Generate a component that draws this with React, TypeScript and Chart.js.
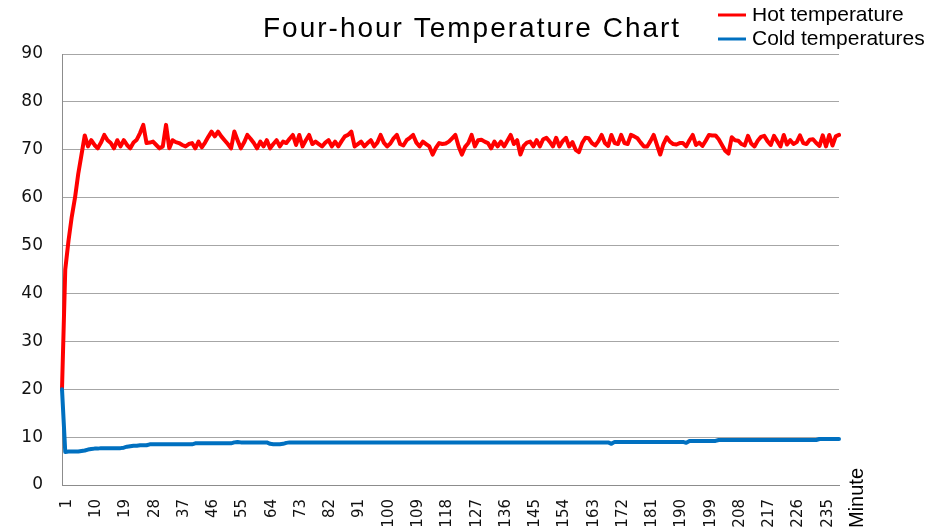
import React, { useEffect, useRef } from "react";
import { Chart, registerables } from "chart.js";

Chart.register(...registerables);

const titleText = "Four-hour Temperature Chart";
const axisTitle = "Minute";
const seriesNames = ["Hot temperature", "Cold temperatures"];
const seriesColors = ["#ff0000", "#0070c0"];

const minutes: string[] = Array.from({ length: 240 }, (_, i) => String(i + 1));

const shownTicks = [
  "1", "10", "19", "28", "37", "46", "55", "64", "73", "82", "91", "100", "109", "118",
  "127", "136", "145", "154", "163", "172", "181", "190", "199", "208", "217", "226", "235",
];

const hotTemps = [
  20, 45, 51, 56, 60, 65, 69, 73, 70.7, 72,
  71, 70.3, 71.5, 73.1, 72, 71.4, 70.3, 72, 70.7, 72,
  71, 70.3, 71.5, 72.1, 73.5, 75.2, 71.4, 71.5, 71.7, 71,
  70.3, 70.7, 75.2, 70.3, 72, 71.6, 71.4, 71, 70.7, 71.2,
  71.4, 70.3, 71.7, 70.5, 71.5, 72.7, 73.8, 72.8, 73.8, 72.8,
  72, 71.2, 70.3, 73.8, 72, 70.3, 71.5, 73.1, 72.3, 71.4,
  70.3, 71.7, 70.7, 72, 70.3, 71.2, 72, 70.7, 71.7, 71.4,
  72.3, 73.1, 71, 73.1, 70.7, 72, 73.1, 71.2, 71.7, 71.2,
  70.7, 71.5, 72, 70.7, 71.7, 70.7, 71.8, 72.8, 73.1, 73.8,
  70.7, 71.2, 71.7, 70.7, 71.4, 72, 70.7, 71.5, 73.1, 71.5,
  70.7, 71.3, 72.4, 73.1, 71.2, 70.9, 72, 72.5, 73.1, 71.5,
  70.7, 71.7, 71.2, 70.7, 69, 70.4, 71.4, 71.2, 71.3, 71.7,
  72.4, 73.1, 70.7, 69, 70.6, 71.4, 73.1, 70.7, 72, 72.1,
  71.7, 71.4, 70.3, 71.7, 70.7, 71.7, 70.7, 71.9, 73.1, 71.2,
  72, 69, 70.8, 71.5, 71.7, 70.7, 72, 70.7, 72.2, 72.5,
  71.7, 70.7, 72.5, 70.7, 71.8, 72.5, 70.7, 71.6, 70, 69.5,
  71.4, 72.5, 72.4, 71.4, 70.9, 71.8, 73.1, 71.4, 70.8, 73.1,
  71.4, 71.2, 73.1, 71.4, 71.2, 73.1, 72.8, 72.4, 71.5, 70.7,
  70.7, 71.8, 73.1, 71, 69, 71.2, 72.6, 71.7, 71.2, 71.1,
  71.4, 71.4, 70.7, 72, 73.1, 71, 71.5, 70.8, 71.9, 73.1,
  73, 73, 72.2, 71, 69.8, 69.2, 72.6, 72, 71.9, 71.2,
  70.9, 72.9, 71.3, 70.7, 71.9, 72.7, 72.9, 71.8, 71, 72.9,
  71.8, 70.7, 73.1, 71.1, 72, 71.2, 71.6, 73, 71.4, 71.2,
  72.1, 72.2, 71.4, 70.8, 73, 70.7, 73.1, 70.9, 72.8, 73.1,
];

const coldTemps = [
  20, 6.9, 7.0, 7.0, 7.0, 7.0, 7.1, 7.2, 7.4, 7.5,
  7.6, 7.6, 7.7, 7.7, 7.7, 7.7, 7.7, 7.7, 7.7, 7.8,
  8.0, 8.1, 8.2, 8.2, 8.3, 8.3, 8.3, 8.5, 8.5, 8.5,
  8.5, 8.5, 8.5, 8.5, 8.5, 8.5, 8.5, 8.5, 8.5, 8.5,
  8.5, 8.7, 8.7, 8.7, 8.7, 8.7, 8.7, 8.7, 8.7, 8.7,
  8.7, 8.7, 8.7, 8.9, 9.0, 8.9, 8.9, 8.9, 8.9, 8.9,
  8.9, 8.9, 8.9, 8.9, 8.6, 8.5, 8.5, 8.5, 8.6, 8.8,
  8.9, 8.9, 8.9, 8.9, 8.9, 8.9, 8.9, 8.9, 8.9, 8.9,
  8.9, 8.9, 8.9, 8.9, 8.9, 8.9, 8.9, 8.9, 8.9, 8.9,
  8.9, 8.9, 8.9, 8.9, 8.9, 8.9, 8.9, 8.9, 8.9, 8.9,
  8.9, 8.9, 8.9, 8.9, 8.9, 8.9, 8.9, 8.9, 8.9, 8.9,
  8.9, 8.9, 8.9, 8.9, 8.9, 8.9, 8.9, 8.9, 8.9, 8.9,
  8.9, 8.9, 8.9, 8.9, 8.9, 8.9, 8.9, 8.9, 8.9, 8.9,
  8.9, 8.9, 8.9, 8.9, 8.9, 8.9, 8.9, 8.9, 8.9, 8.9,
  8.9, 8.9, 8.9, 8.9, 8.9, 8.9, 8.9, 8.9, 8.9, 8.9,
  8.9, 8.9, 8.9, 8.9, 8.9, 8.9, 8.9, 8.9, 8.9, 8.9,
  8.9, 8.9, 8.9, 8.9, 8.9, 8.9, 8.9, 8.9, 8.9, 8.6,
  9.0, 9.0, 9.0, 9.0, 9.0, 9.0, 9.0, 9.0, 9.0, 9.0,
  9.0, 9.0, 9.0, 9.0, 9.0, 9.0, 9.0, 9.0, 9.0, 9.0,
  9.0, 9.0, 8.8, 9.2, 9.2, 9.2, 9.2, 9.2, 9.2, 9.2,
  9.2, 9.2, 9.4, 9.4, 9.4, 9.4, 9.4, 9.4, 9.4, 9.4,
  9.4, 9.4, 9.4, 9.4, 9.4, 9.4, 9.4, 9.4, 9.4, 9.4,
  9.4, 9.4, 9.4, 9.4, 9.4, 9.4, 9.4, 9.4, 9.4, 9.4,
  9.4, 9.4, 9.4, 9.6, 9.6, 9.6, 9.6, 9.6, 9.6, 9.6,
];

const textColor = "#111111";
const tickFont = '"DejaVu Sans", Tahoma, sans-serif';
const labelFont = '"Liberation Sans", Arial, sans-serif';

const overlayPlugin = {
  id: "overlay",
  afterDraw(chart: any) {
    const ctx: CanvasRenderingContext2D = chart.ctx;
    ctx.save();
    // Title
    ctx.fillStyle = "#000";
    ctx.font = `28px ${labelFont}`;
    (ctx as any).letterSpacing = "2px";
    ctx.textAlign = "left";
    ctx.textBaseline = "alphabetic";
    ctx.fillText(titleText, 255, 29);
    (ctx as any).letterSpacing = "0px";

    // Legend
    ctx.font = `21px ${labelFont}`;
    const rows = [7, 31];
    seriesNames.forEach((name, i) => {
      ctx.strokeStyle = seriesColors[i];
      ctx.lineWidth = 3;
      ctx.beginPath();
      ctx.moveTo(710, rows[i]);
      ctx.lineTo(738, rows[i]);
      ctx.stroke();
      ctx.fillStyle = "#000";
      ctx.fillText(name, 744, rows[i] + 6);
    });

    // Axis title
    ctx.translate(855, 520);
    ctx.rotate(-Math.PI / 2);
    ctx.font = `20px ${labelFont}`;
    ctx.fillStyle = "#000";
    ctx.textAlign = "left";
    ctx.textBaseline = "alphabetic";
    ctx.fillText(axisTitle, 0, 0);
    ctx.restore();
  },
};

export default function App() {
  const canvasRef = useRef<HTMLCanvasElement | null>(null);

  useEffect(() => {
    if (!canvasRef.current) return;
    const chart = new Chart(canvasRef.current, {
      type: "line",
      data: {
        labels: minutes,
        datasets: [
          {
            label: seriesNames[0],
            data: hotTemps,
            borderColor: seriesColors[0],
            backgroundColor: seriesColors[0],
            borderWidth: 4,
            pointRadius: 0,
            tension: 0,
            borderJoinStyle: "round",
            borderCapStyle: "round",
            order: 1,
          },
          {
            label: seriesNames[1],
            data: coldTemps,
            borderColor: seriesColors[1],
            backgroundColor: seriesColors[1],
            borderWidth: 4,
            pointRadius: 0,
            tension: 0,
            borderJoinStyle: "round",
            borderCapStyle: "round",
            order: 0,
          },
        ],
      },
      options: {
        animation: false,
        responsive: true,
        maintainAspectRatio: false,
        layout: { padding: { top: 46, right: 99, left: 0, bottom: 0 } },
        plugins: {
          legend: { display: false },
          title: { display: false },
          tooltip: { enabled: false },
        },
        scales: {
          x: {
            type: "category",
            offset: false,
            grid: { display: false, drawTicks: false },
            border: { display: true, color: "#8c8c8c", width: 1 },
            ticks: {
              autoSkip: false,
              maxRotation: 90,
              minRotation: 90,
              padding: 14,
              labelOffset: 5,
              color: textColor,
              font: { family: tickFont, size: 15 },
              callback: (_v: any, i: number) => {
                const l = minutes[i];
                return shownTicks.includes(l) ? l : null;
              },
            },
            afterFit: (scale: any) => {
              scale.height = 47;
            },
          },
          y: {
            min: 0,
            max: 90,
            grid: { color: "#a6a6a6", drawTicks: false, lineWidth: 1 },
            border: { display: true, color: "#8c8c8c", width: 1 },
            ticks: {
              stepSize: 10,
              padding: 19,
              color: textColor,
              font: { family: tickFont, size: 17 },
            },
            afterFit: (scale: any) => {
              scale.width = 54;
            },
          },
        },
      },
      plugins: [overlayPlugin],
    });
    return () => chart.destroy();
  }, []);

  return (
    <div style={{ width: 930, height: 524, position: "relative" }}>
      <canvas ref={canvasRef} />
    </div>
  );
}
